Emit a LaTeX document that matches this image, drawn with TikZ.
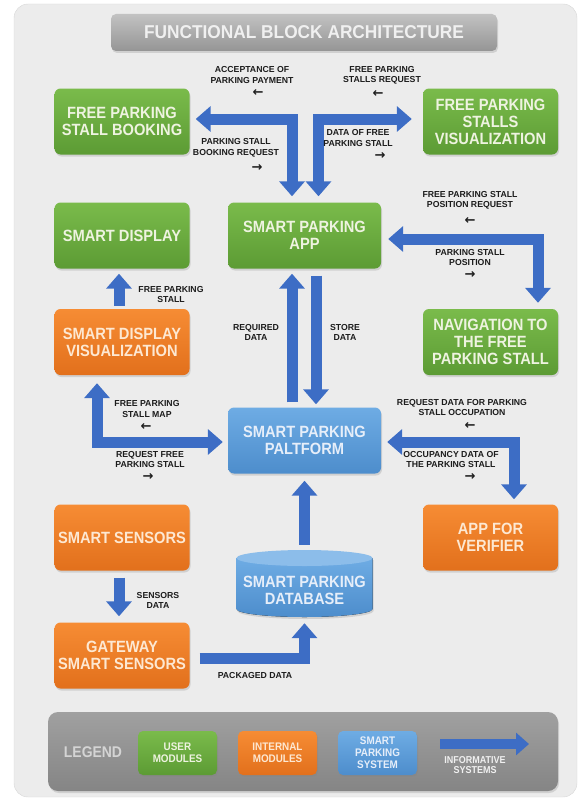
\documentclass[tikz,border=0pt]{standalone}
\usepackage{fontspec}
\setmainfont{Liberation Sans}
\newfontfamily\narrowfam[FakeStretch=0.9]{Liberation Sans}
\newfontfamily\titlefam[FakeStretch=0.93]{Liberation Sans}
\newfontfamily\symfam{DejaVu Sans}
\usetikzlibrary{arrows.meta,shadows}

\definecolor{panelBg}{HTML}{ECECEC}
\definecolor{panelEdge}{HTML}{D6D6D6}
\definecolor{userTop}{HTML}{7ABB4B}
\definecolor{userBot}{HTML}{5C9B34}
\definecolor{userText}{HTML}{EEF3E0}
\definecolor{intTop}{HTML}{F68C34}
\definecolor{intBot}{HTML}{E2701C}
\definecolor{intText}{HTML}{FDE8D2}
\definecolor{sysTop}{HTML}{6EACE4}
\definecolor{sysBot}{HTML}{4D8DCC}
\definecolor{sysText}{HTML}{E6EEF9}
\definecolor{dbTop}{HTML}{8CBDEA}
\definecolor{flowBlue}{HTML}{3D6DC5}
\definecolor{lblText}{HTML}{1C1C1C}
\definecolor{titleTop}{HTML}{C2C2C2}
\definecolor{titleBot}{HTML}{959595}
\definecolor{titleText}{HTML}{F0F0F0}
\definecolor{legTop}{HTML}{A0A0A0}
\definecolor{legBot}{HTML}{858585}
\definecolor{legText}{HTML}{D4D4D4}

\newcommand{\boxfont}{\narrowfam\bfseries\fontsize{16.3}{17}\selectfont}
\newcommand{\lblfont}{\bfseries\fontsize{8.7}{10.5}\selectfont}
\newcommand{\legfont}{\narrowfam\bfseries\fontsize{11}{12}\selectfont}

\begin{document}
\begin{tikzpicture}[x=1pt,y=-1pt]
	\useasboundingbox (0,0) rectangle (582,800);
	\tikzstyle{Module} = [rectangle, rounded corners=6pt, minimum width=135pt, minimum height=66pt, inner sep=2pt, align=center, font=\boxfont, drop shadow={opacity=0.25, shadow xshift=1pt, shadow yshift=-2pt}]
	\tikzstyle{User} = [Module, top color=userTop, bottom color=userBot, text=userText]
	\tikzstyle{Internal} = [Module, top color=intTop, bottom color=intBot, text=intText]
	\tikzstyle{System} = [Module, top color=sysTop, bottom color=sysBot, text=sysText]
	\tikzstyle{Lbl} = [inner sep=0pt, align=center, font=\lblfont, text=lblText]
	\tikzstyle{Dir} = [inner sep=0pt, font=\symfam\bfseries\fontsize{13}{13}\selectfont, text=lblText]
	\tikzstyle{Flow} = [draw=flowBlue, line width=11pt, line join=miter, >={Triangle[length=15pt,width=25pt]}]
	\tikzstyle{Key} = [rectangle, rounded corners=5pt, minimum width=79pt, minimum height=44pt, inner sep=1pt, align=center, font=\legfont, drop shadow={opacity=0.25, shadow xshift=1pt, shadow yshift=-1.5pt}]
	% background panel
	\draw[rounded corners=14pt, fill=panelBg, draw=panelEdge] (14,4) rectangle (577,797);
	\node (T) at (304,32.5) [rectangle, rounded corners=5pt, minimum width=386pt, minimum height=37pt, top color=titleTop, bottom color=titleBot, text=titleText, font=\titlefam\bfseries\fontsize{18.6}{20}\selectfont, drop shadow={opacity=0.25, shadow xshift=1pt, shadow yshift=-2pt}] {FUNCTIONAL BLOCK ARCHITECTURE};
	% modules
	\node (B) at (122,121.5) [User] {FREE PARKING\\STALL BOOKING};
	\node (V) at (490.5,121.5) [User] {FREE PARKING\\STALLS\\VISUALIZATION};
	\node (SD) at (122,235.5) [User] {SMART DISPLAY};
	\node (APP) at (304.5,235.5) [User, minimum width=153pt] {SMART PARKING\\APP};
	\node (SDV) at (122,342) [Internal] {SMART DISPLAY\\VISUALIZATION};
	\node (NAV) at (490.5,342) [User] {NAVIGATION TO\\THE FREE\\PARKING STALL};
	\node (SPP) at (304.5,440.5) [System, minimum width=153pt] {SMART PARKING\\PALTFORM};
	\node (SS) at (122,537.5) [Internal] {SMART SENSORS};
	\node (AV) at (490.5,537.5) [Internal] {APP FOR\\VERIFIER};
	\node (GW) at (122,655.5) [Internal] {GATEWAY\\SMART SENSORS};
	% database cylinder
	\fill[top color=sysTop, bottom color=sysBot, drop shadow={opacity=0.25, shadow xshift=1pt, shadow yshift=-2pt}] (236.5,558) -- (236.5,609) arc[start angle=180, end angle=360, x radius=68pt, y radius=8pt] -- (372.5,558) -- cycle;
	\fill[dbTop] (304.5,558) ellipse[x radius=68pt, y radius=8pt];
	\node (DB) at (304.5,590) [rectangle, minimum width=136pt, minimum height=54pt, inner sep=2pt, align=center, font=\boxfont, text=sysText] {SMART PARKING\\DATABASE};
	% flows
	\draw[Flow, <->] ([xshift=6pt,yshift=2.5pt]B.east) -| ([xshift=-12.5pt,yshift=6pt]APP.north);
	\draw[Flow, <->] ([xshift=-11pt,yshift=2.5pt]V.west) -| ([xshift=14pt,yshift=6pt]APP.north);
	\draw[Flow, <->] ([xshift=7pt,yshift=-3.5pt]APP.east) -| ([xshift=47.5pt,yshift=6pt]NAV.north);
	\draw[Flow, ->] ([xshift=-12.5pt,yshift=5pt]SPP.north) -- ([xshift=-12.5pt,yshift=-5pt]APP.south);
	\draw[Flow, ->] ([xshift=11.5pt,yshift=-7pt]APP.south) -- ([xshift=11.5pt,yshift=3pt]SPP.north);
	\draw[Flow, ->] ([xshift=-3pt,yshift=3pt]SDV.north) -- ([xshift=-3pt,yshift=-5pt]SD.south);
	\draw[Flow, <->] ([xshift=-5pt,yshift=-1.5pt]SPP.west) -| ([xshift=-25pt,yshift=-8pt]SDV.south);
	\draw[Flow, <->] ([xshift=6pt,yshift=-1.5pt]SPP.east) -| ([xshift=23.5pt,yshift=5pt]AV.north);
	\draw[Flow, ->] ([yshift=18pt]DB.north) -- ([yshift=-7pt]SPP.south);
	\draw[Flow, ->] ([xshift=-3pt,yshift=-7pt]SS.south) -- ([xshift=-3pt,yshift=6pt]GW.north);
	\draw[Flow, ->] ([xshift=10pt,yshift=-2.5pt]GW.east) -| ([yshift=-6pt]DB.south);
	% flow labels
	\node (lAcc) at (252,75) [Lbl] {ACCEPTANCE OF\\PARKING PAYMENT};
	\node (dAcc) at (258,93) [Dir] {←};
	\node (lBook) at (236,148) [Lbl] {PARKING STALL\\BOOKING REQUEST};
	\node (dBook) at (257,168) [Dir] {→};
	\node (lFreeReq) at (382,75.5) [Lbl] {FREE PARKING\\STALLS REQUEST};
	\node (dFreeReq) at (378,94) [Dir] {←};
	\node (lData) at (358,138) [Lbl] {DATA OF FREE\\PARKING STALL};
	\node (dData) at (380,156) [Dir] {→};
	\node (lPosReq) at (470,200.5) [Lbl] {FREE PARKING STALL\\POSITION REQUEST};
	\node (dPosReq) at (470,221) [Dir] {←};
	\node (lPos) at (470,257.5) [Lbl] {PARKING STALL\\POSITION};
	\node (dPos) at (470,275) [Dir] {→};
	\node (lFps) at (171,294.5) [Lbl] {FREE PARKING\\STALL};
	\node (lReq) at (256,332.5) [Lbl] {REQUIRED\\DATA};
	\node (lStore) at (345,332.5) [Lbl] {STORE\\DATA};
	\node (lMap) at (147,409) [Lbl] {FREE PARKING\\STALL MAP};
	\node (dMap) at (146,427) [Dir] {←};
	\node (lReqFree) at (150,459.5) [Lbl] {REQUEST FREE\\PARKING STALL};
	\node (dReqFree) at (148,477) [Dir] {→};
	\node (lOcc) at (462,407.5) [Lbl] {REQUEST DATA FOR PARKING\\STALL OCCUPATION};
	\node (dOcc) at (470,426) [Dir] {←};
	\node (lOccData) at (451,459.5) [Lbl] {OCCUPANCY DATA OF\\THE PARKING STALL};
	\node (dOccData) at (470,477) [Dir] {→};
	\node (lSens) at (158,600.5) [Lbl] {SENSORS\\DATA};
	\node (lPack) at (255,675) [Lbl] {PACKAGED DATA};
	% legend
	\node (LG) at (303,751.5) [rectangle, rounded corners=10pt, minimum width=510pt, minimum height=79pt, top color=legTop, bottom color=legBot, drop shadow={opacity=0.25, shadow xshift=1pt, shadow yshift=-2pt}] {};
	\node (lLeg) at (93,752) [text=legText, font=\narrowfam\bfseries\fontsize{15.5}{16}\selectfont] {LEGEND};
	\node (kU) at (177.5,753) [Key, top color=userTop, bottom color=userBot, text=userText] {USER\\MODULES};
	\node (kI) at (277.5,753) [Key, top color=intTop, bottom color=intBot, text=intText] {INTERNAL\\MODULES};
	\node (kS) at (377.5,753) [Key, top color=sysTop, bottom color=sysBot, text=sysText] {SMART\\PARKING\\SYSTEM};
	\coordinate (kA1) at (440,744);
	\coordinate (kA2) at (529,744);
	\draw[Flow, line width=10pt, ->, >={Triangle[length=13pt,width=22pt]}] (kA1) -- (kA2);
	\node (lInfo) at (475,765) [inner sep=0pt, align=center, text=titleText, font=\narrowfam\bfseries\fontsize{10}{10}\selectfont] {INFORMATIVE\\SYSTEMS};
\end{tikzpicture}
\end{document}
